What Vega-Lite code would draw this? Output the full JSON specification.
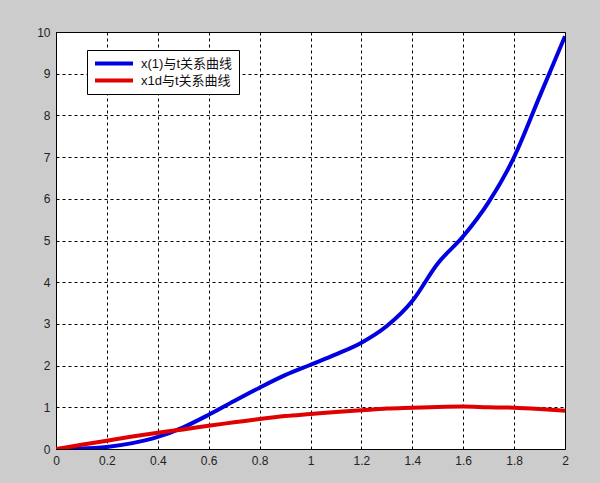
{
  "$schema": "https://vega.github.io/schema/vega-lite/v6.json",
  "width": 509,
  "height": 417,
  "autosize": {"type": "none"},
  "padding": {"left": 56, "top": 32, "right": 35, "bottom": 34},
  "background": "#cccccc",
  "config": {
    "view": {"fill": "white", "stroke": "black", "strokeWidth": 1},
    "font": "Liberation Sans, Noto Sans CJK SC"
  },
  "data": {
    "values": [
      {"t": 0.0, "v": 0.0, "s": "x(1)与t关系曲线"},
      {"t": 0.1, "v": 0.01, "s": "x(1)与t关系曲线"},
      {"t": 0.2, "v": 0.05, "s": "x(1)与t关系曲线"},
      {"t": 0.3, "v": 0.14, "s": "x(1)与t关系曲线"},
      {"t": 0.4, "v": 0.29, "s": "x(1)与t关系曲线"},
      {"t": 0.5, "v": 0.52, "s": "x(1)与t关系曲线"},
      {"t": 0.6, "v": 0.82, "s": "x(1)与t关系曲线"},
      {"t": 0.7, "v": 1.15, "s": "x(1)与t关系曲线"},
      {"t": 0.8, "v": 1.47, "s": "x(1)与t关系曲线"},
      {"t": 0.9, "v": 1.77, "s": "x(1)与t关系曲线"},
      {"t": 1.0, "v": 2.02, "s": "x(1)与t关系曲线"},
      {"t": 1.1, "v": 2.27, "s": "x(1)与t关系曲线"},
      {"t": 1.2, "v": 2.55, "s": "x(1)与t关系曲线"},
      {"t": 1.3, "v": 2.95, "s": "x(1)与t关系曲线"},
      {"t": 1.4, "v": 3.55, "s": "x(1)与t关系曲线"},
      {"t": 1.5, "v": 4.45, "s": "x(1)与t关系曲线"},
      {"t": 1.6, "v": 5.1, "s": "x(1)与t关系曲线"},
      {"t": 1.7, "v": 5.92, "s": "x(1)与t关系曲线"},
      {"t": 1.8, "v": 7.0, "s": "x(1)与t关系曲线"},
      {"t": 1.9, "v": 8.45, "s": "x(1)与t关系曲线"},
      {"t": 2.0, "v": 9.9, "s": "x(1)与t关系曲线"},
      {"t": 0.0, "v": 0.0, "s": "x1d与t关系曲线"},
      {"t": 0.1, "v": 0.1, "s": "x1d与t关系曲线"},
      {"t": 0.2, "v": 0.2, "s": "x1d与t关系曲线"},
      {"t": 0.3, "v": 0.3, "s": "x1d与t关系曲线"},
      {"t": 0.4, "v": 0.39, "s": "x1d与t关系曲线"},
      {"t": 0.5, "v": 0.47, "s": "x1d与t关系曲线"},
      {"t": 0.6, "v": 0.56, "s": "x1d与t关系曲线"},
      {"t": 0.7, "v": 0.64, "s": "x1d与t关系曲线"},
      {"t": 0.8, "v": 0.72, "s": "x1d与t关系曲线"},
      {"t": 0.9, "v": 0.79, "s": "x1d与t关系曲线"},
      {"t": 1.0, "v": 0.84, "s": "x1d与t关系曲线"},
      {"t": 1.1, "v": 0.89, "s": "x1d与t关系曲线"},
      {"t": 1.2, "v": 0.93, "s": "x1d与t关系曲线"},
      {"t": 1.3, "v": 0.97, "s": "x1d与t关系曲线"},
      {"t": 1.4, "v": 0.99, "s": "x1d与t关系曲线"},
      {"t": 1.5, "v": 1.01, "s": "x1d与t关系曲线"},
      {"t": 1.6, "v": 1.02, "s": "x1d与t关系曲线"},
      {"t": 1.7, "v": 1.0, "s": "x1d与t关系曲线"},
      {"t": 1.8, "v": 0.99, "s": "x1d与t关系曲线"},
      {"t": 1.9, "v": 0.96, "s": "x1d与t关系曲线"},
      {"t": 2.0, "v": 0.92, "s": "x1d与t关系曲线"}
    ]
  },
  "mark": {"type": "line", "strokeWidth": 4, "clip": true, "interpolate": "monotone"},
  "encoding": {
    "x": {
      "field": "t", "type": "quantitative",
      "scale": {"domain": [0, 2], "nice": false, "zero": false},
      "axis": {
        "title": null, "values": [0, 0.2, 0.4, 0.6, 0.8, 1, 1.2, 1.4, 1.6, 1.8, 2],
        "format": "~g", "ticks": false, "domain": false,
        "grid": true, "gridColor": "black", "gridDash": [3, 3], "gridOpacity": 1, "gridWidth": 1,
        "labelFont": "Liberation Sans", "labelFontSize": 12, "labelColor": "#222222",
        "labelPadding": 6, "labelFlush": false
      }
    },
    "y": {
      "field": "v", "type": "quantitative",
      "scale": {"domain": [0, 10], "nice": false},
      "axis": {
        "title": null, "values": [0, 1, 2, 3, 4, 5, 6, 7, 8, 9, 10],
        "ticks": false, "domain": false,
        "grid": true, "gridColor": "black", "gridDash": [3, 3], "gridOpacity": 1, "gridWidth": 1,
        "labelFont": "Liberation Sans", "labelFontSize": 12, "labelColor": "#222222",
        "labelPadding": 6, "labelFlush": false
      }
    },
    "color": {
      "field": "s", "type": "nominal",
      "scale": {"domain": ["x(1)与t关系曲线", "x1d与t关系曲线"], "range": ["#0000e0", "#e00000"]},
      "legend": {
        "title": null, "orient": "none", "legendX": 31, "legendY": 18,
        "symbolType": "stroke", "symbolSize": 1444, "symbolStrokeWidth": 4,
        "clipHeight": 15,
        "labelFont": "Liberation Sans, Noto Sans CJK SC", "labelFontSize": 13, "labelColor": "#111111",
        "labelOffset": 6, "rowPadding": 2, "padding": 6,
        "fillColor": "white", "strokeColor": "black"
      }
    }
  }
}
